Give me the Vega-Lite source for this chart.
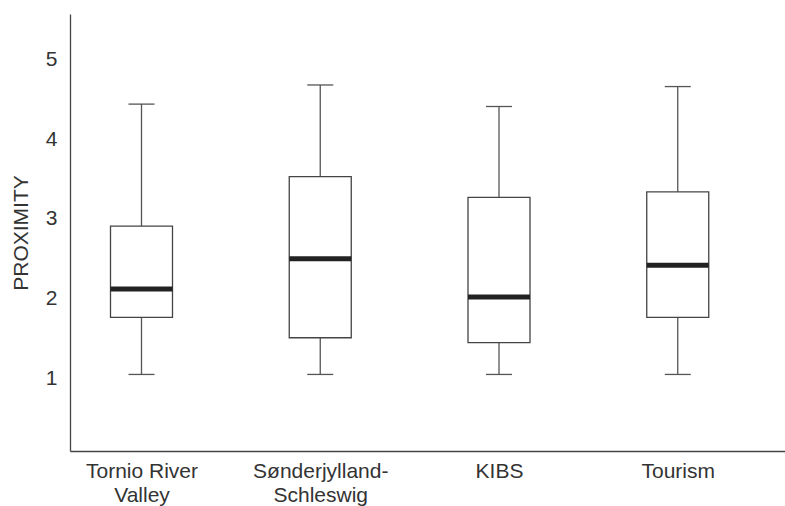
{
  "$schema": "https://vega.github.io/schema/vega-lite/v6.json",
  "width": 715,
  "height": 437,
  "autosize": {"type": "none"},
  "padding": {"left": 70, "top": 14, "right": 0, "bottom": 55},
  "background": "white",
  "config": {
    "view": {"stroke": null},
    "font": "Liberation Sans",
    "axisX": {
      "domainColor": "#444444",
      "domainWidth": 1.3,
      "ticks": false,
      "tickSize": 0,
      "labelAngle": 0,
      "labelFontSize": 21,
      "labelColor": "#333333",
      "labelPadding": 9,
      "labelBaseline": "top",
      "labelLineHeight": 24,
      "grid": false
    },
    "axisY": {
      "domainColor": "#444444",
      "domainWidth": 1.3,
      "ticks": false,
      "tickSize": 0,
      "grid": false,
      "labelFontSize": 21,
      "labelColor": "#333333",
      "labelPadding": 13,
      "labelOffset": 4,
      "titleFontSize": 21,
      "titleFontWeight": "normal",
      "titleColor": "#333333",
      "titlePadding": 14
    }
  },
  "data": {
    "values": [
      {"group": "Tornio River Valley", "lower": 1, "q1": 1.715, "median": 2.07, "q3": 2.86, "upper": 4.39},
      {"group": "Sønderjylland-Schleswig", "lower": 1, "q1": 1.46, "median": 2.45, "q3": 3.48, "upper": 4.63},
      {"group": "KIBS", "lower": 1, "q1": 1.40, "median": 1.97, "q3": 3.22, "upper": 4.36},
      {"group": "Tourism", "lower": 1, "q1": 1.715, "median": 2.37, "q3": 3.29, "upper": 4.61}
    ]
  },
  "encoding": {
    "x": {
      "field": "group",
      "type": "nominal",
      "sort": null,
      "title": null,
      "scale": {"type": "point", "padding": 0.5, "align": 0.4},
      "axis": {
        "labelExpr": "datum.value == 'Tornio River Valley' ? ['Tornio River', 'Valley'] : datum.value == 'Sønderjylland-Schleswig' ? ['Sønderjylland-', 'Schleswig'] : datum.value"
      }
    }
  },
  "layer": [
    {
      "mark": {"type": "rule", "color": "#555555", "strokeWidth": 1.3},
      "encoding": {
        "y": {"field": "lower", "type": "quantitative", "title": "PROXIMITY", "scale": {"domain": [0.04, 5.52], "nice": false, "zero": false}, "axis": {"values": [1, 2, 3, 4, 5], "format": "d"}},
        "y2": {"field": "upper"}
      }
    },
    {
      "mark": {"type": "bar", "size": 62, "fill": "white", "stroke": "#444444", "strokeWidth": 1.3},
      "encoding": {
        "y": {"field": "q1", "type": "quantitative", "title": "PROXIMITY"},
        "y2": {"field": "q3"}
      }
    },
    {
      "mark": {"type": "tick", "size": 26, "thickness": 1.3, "color": "#555555", "opacity": 1},
      "encoding": {
        "y": {"field": "upper", "type": "quantitative", "title": "PROXIMITY"}
      }
    },
    {
      "mark": {"type": "tick", "size": 26, "thickness": 1.3, "color": "#555555", "opacity": 1},
      "encoding": {
        "y": {"field": "lower", "type": "quantitative", "title": "PROXIMITY"}
      }
    },
    {
      "mark": {"type": "tick", "size": 62, "thickness": 5, "color": "#222222", "opacity": 1},
      "encoding": {
        "y": {"field": "median", "type": "quantitative", "title": "PROXIMITY"}
      }
    }
  ]
}
